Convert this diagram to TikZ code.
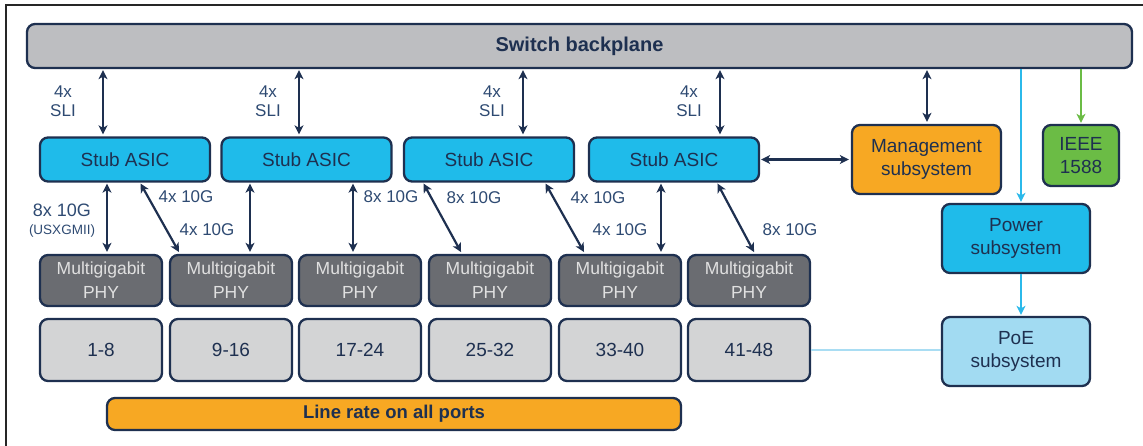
\documentclass[tikz,border=0pt]{standalone}
\usepackage{fontspec}
\setmainfont{Liberation Sans}
\usetikzlibrary{arrows.meta}
\definecolor{navy}{HTML}{1E3050}
\definecolor{lblblue}{HTML}{2E4A72}
\definecolor{backgray}{HTML}{BDBEC1}
\definecolor{asicblue}{HTML}{1FBBEA}
\definecolor{phygray}{HTML}{6A6C71}
\definecolor{portgray}{HTML}{D3D4D5}
\definecolor{mgmtorange}{HTML}{F7A823}
\definecolor{ieeegreen}{HTML}{6BBC45}
\definecolor{poeblue}{HTML}{A2DBF2}
\definecolor{linkblue}{HTML}{2BB9EA}
\definecolor{poeline}{HTML}{A9DDF3}
\tikzset{
  box/.style={draw=navy,line width=2.3pt,rounded corners=8pt,text=navy,align=center,inner sep=0pt},
  asic/.style={box,fill=asicblue,minimum width=170pt,minimum height=44pt,font=\fontsize{19}{23}\selectfont},
  phy/.style={box,fill=phygray,text=white!88!black,minimum width=122pt,minimum height=51pt,font=\fontsize{17.5}{24}\selectfont},
  port/.style={box,fill=portgray,minimum width=122pt,minimum height=62pt,font=\fontsize{19}{23}\selectfont},
  subsys/.style={box,minimum width=148pt,minimum height=69pt,font=\fontsize{19}{23}\selectfont},
  lbl/.style={text=lblblue,align=center,inner sep=0pt,font=\fontsize{17}{19}\selectfont},
  link/.style={<->,navy,line width=2.2pt,shorten <=1pt,shorten >=2pt},
  feed/.style={->,line width=2pt,shorten >=1pt},
}
\begin{document}
\begin{tikzpicture}[x=1pt,y=-1pt,>={Stealth[length=9pt,width=9pt,inset=2.5pt]}]
	\useasboundingbox (0,0) rectangle (1143,446);
	\draw[line width=1.8pt,black!85] (6,446) |- (1143,5);
	% backplane and stub ASICs
	\node[box,fill=backgray,minimum width=1105pt,minimum height=44pt,font=\fontsize{20}{24}\selectfont\bfseries] (bp) at (579.5,46) {Switch backplane};
	\node[asic] (asicA) at (125,159.5) {Stub ASIC};
	\node[asic] (asicB) at (306.5,159.5) {Stub ASIC};
	\node[asic] (asicC) at (489,159.5) {Stub ASIC};
	\node[asic] (asicD) at (674,159.5) {Stub ASIC};
	% PHYs and port groups
	\foreach \i/\x/\ports in {1/101/1-8,2/231/9-16,3/360/17-24,4/490/25-32,5/620/33-40,6/749/41-48}{
		\node[phy] (phy\i) at (\x,280.5) {Multigigabit\\PHY};
		\node[port] (port\i) at (\x,350) {\ports};
	}
	\node[box,fill=mgmtorange,minimum width=574pt,minimum height=32pt,font=\fontsize{18.5}{22}\selectfont\bfseries] (linerate) at (394,414) {Line rate on all ports};
	% right side subsystems
	\node[subsys,fill=mgmtorange,minimum width=149pt] (mgmt) at (926.5,159.5) {Management\\subsystem};
	\node[subsys,fill=ieeegreen,minimum width=76pt,minimum height=61pt] (ieee) at (1081,155.5) {IEEE\\1588};
	\node[subsys,fill=asicblue] (power) at (1016,238.5) {Power\\subsystem};
	\node[subsys,fill=poeblue] (poe) at (1016,351.5) {PoE\\subsystem};
	% SLI links
	\draw[link] (bp.south -| 103,0) -- (asicA.north -| 103,0);
	\draw[link] (bp.south -| 299,0) -- (asicB.north -| 299,0);
	\draw[link] (bp.south -| 523,0) -- (asicC.north -| 523,0);
	\draw[link] (bp.south -| 720,0) -- (asicD.north -| 720,0);
	\node[lbl] (sliA) at (63,101) {4x\\SLI};
	\node[lbl] (sliB) at (268,101) {4x\\SLI};
	\node[lbl] (sliC) at (492,101) {4x\\SLI};
	\node[lbl] (sliD) at (689,101) {4x\\SLI};
	% ASIC to PHY links
	\draw[link] (asicA.south -| 107,0) -- (phy1.north -| 107,0);
	\draw[link] (asicA.south -| 140,0) -- (phy2.north -| 180,0);
	\draw[link] (asicB.south -| 250,0) -- (phy2.north -| 250,0);
	\draw[link] (asicB.south -| 353,0) -- (phy3.north -| 353,0);
	\draw[link] (asicC.south -| 423,0) -- (phy4.north -| 462,0);
	\draw[link] (asicC.south -| 545,0) -- (phy5.north -| 585,0);
	\draw[link] (asicD.south -| 661,0) -- (phy5.north -| 661,0);
	\draw[link] (asicD.south -| 717,0) -- (phy6.north -| 755,0);
	\node[lbl,font=\fontsize{18}{20}\selectfont] (rateA) at (62,210) {8x 10G};
	\node[lbl,font=\fontsize{13.5}{15}\selectfont] (usx) at (62,231) {(USXGMII)};
	\node[lbl] (rateB) at (186,197) {4x 10G};
	\node[lbl] (rateC) at (207,230) {4x 10G};
	\node[lbl] (rateD) at (391,197) {8x 10G};
	\node[lbl] (rateE) at (474,198) {8x 10G};
	\node[lbl] (rateF) at (598,198) {4x 10G};
	\node[lbl] (rateG) at (620,230) {4x 10G};
	\node[lbl] (rateH) at (790,230) {8x 10G};
	% management, timing and power
	\draw[link] (asicD.east) -- (mgmt.west);
	\draw[link] (bp.south -| 927,0) -- (mgmt.north -| 927,0);
	\draw[feed,ieeegreen] (bp.south -| ieee.north) -- (ieee.north);
	\draw[feed,linkblue] (bp.south -| 1021,0) -- (power.north -| 1021,0);
	\draw[feed,linkblue] (power.south -| 1021,0) -- (poe.north -| 1021,0);
	\draw[poeline,line width=2pt] (port6.east) -- (port6.east -| poe.west);
\end{tikzpicture}
\end{document}
